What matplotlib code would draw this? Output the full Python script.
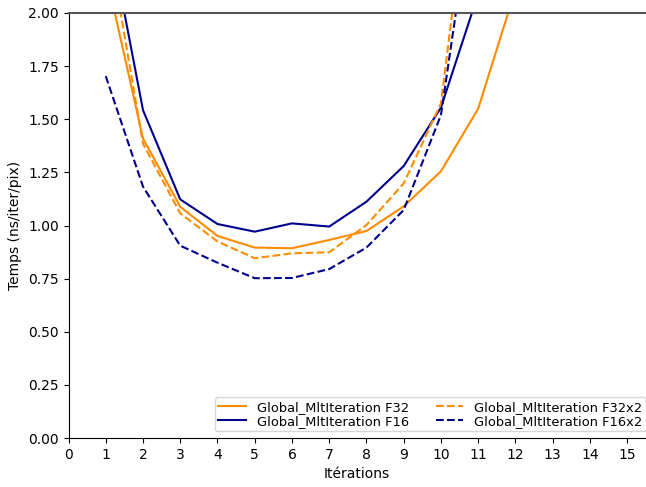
import matplotlib
matplotlib.use("Agg")
import matplotlib.pyplot as plt

x_f32 = [1, 2, 3, 4, 5, 6, 7, 8, 9, 10, 11, 12]
f32 = [2.19, 1.41, 1.088, 0.951, 0.896, 0.893, 0.932, 0.974, 1.09, 1.255, 1.55, 2.11]

x_f16 = [1, 2, 3, 4, 5, 6, 7, 8, 9, 10, 11]
f16 = [2.46, 1.543, 1.123, 1.007, 0.971, 1.01, 0.995, 1.112, 1.28, 1.555, 2.09]

x_f32x2 = [1, 2, 3, 4, 5, 6, 7, 8, 9, 10, 11]
f32x2 = [2.41, 1.385, 1.057, 0.925, 0.846, 0.869, 0.874, 1.002, 1.198, 1.575, 2.98]

x_f16x2 = [1, 2, 3, 4, 5, 6, 7, 8, 9, 10, 11]
f16x2 = [1.703, 1.183, 0.905, 0.825, 0.752, 0.753, 0.795, 0.896, 1.073, 1.52, 2.72]

xticks = list(range(0, 16))
yticks = [0.0, 0.25, 0.5, 0.75, 1.0, 1.25, 1.5, 1.75, 2.0]

W, H = 646, 487
fig = plt.figure(figsize=(W / 100, H / 100), dpi=100)
ax = fig.add_axes([68.5 / W, 1 - 438 / H, (645.8 - 68.5) / W, (438 - 13) / H])

ax.plot(x_f32, f32, color="darkorange", lw=1.5, label="Global_MltIteration F32")
ax.plot(x_f16, f16, color="darkblue", lw=1.5, label="Global_MltIteration F16")
ax.plot(x_f32x2, f32x2, color="darkorange", lw=1.5, ls="--", label="Global_MltIteration F32x2")
ax.plot(x_f16x2, f16x2, color="darkblue", lw=1.5, ls="--", label="Global_MltIteration F16x2")

ax.set_xlim(0, 15.5)
ax.set_ylim(0, 2.0)
ax.set_xticks(xticks)
ax.set_yticks(yticks)
ax.set_yticklabels([f"{v:.2f}" for v in yticks])
ax.spines["right"].set_visible(False)
ax.spines["top"].set_color("#555555")
ax.spines["top"].set_linewidth(1.5)

ax.set_xlabel("Itérations")
ax.set_ylabel("Temps (ns/iter/pix)")

ax.legend(ncol=2, loc="lower right", bbox_to_anchor=(1.0, 0.016), borderaxespad=0,
          fontsize=9.4, handlelength=2.13, columnspacing=2.0, labelspacing=0.1,
          borderpad=0.25, handletextpad=0.85)

fig.savefig("out.png", dpi=100)
